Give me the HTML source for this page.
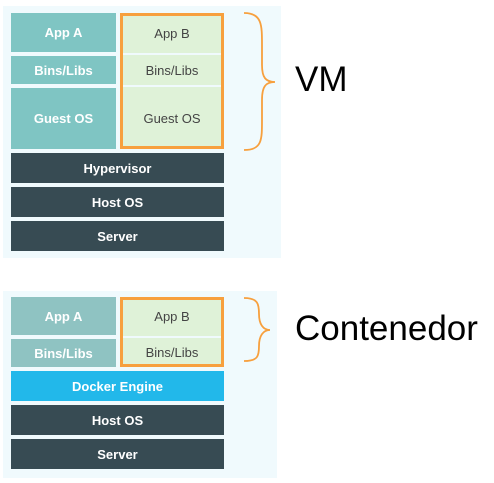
<!DOCTYPE html>
<html><head><style>
body{margin:0;width:494px;height:483px;background:#fff;position:relative;overflow:hidden;font-family:"Liberation Sans",sans-serif}
div{position:absolute;box-sizing:border-box}
.b{display:flex;align-items:center;justify-content:center;font-size:13px;color:#fff;font-weight:bold}
.t{background:#7fc5c3}
.t2{background:#8fc3c2}
.g{background:#dff2d8;color:#444;font-weight:normal}
.d{background:#374b53}
.o{border:3px solid #f7a03e}
.lbl{font-size:35px;color:#000;line-height:1}
</style></head><body>
<div style="left:3px;top:6px;width:278px;height:252px;background:#f0fafd"></div>
<div class="b t" style="left:11px;top:13px;width:105px;height:39px">App A</div>
<div class="b t" style="left:11px;top:56px;width:105px;height:28px">Bins/Libs</div>
<div class="b t" style="left:11px;top:88px;width:105px;height:61px">Guest OS</div>
<div class="b g" style="left:120px;top:13px;width:104px;height:40px">App B</div>
<div class="b g" style="left:120px;top:55px;width:104px;height:30px">Bins/Libs</div>
<div class="b g" style="left:120px;top:87px;width:104px;height:62px">Guest OS</div>
<div class="o" style="left:120px;top:13px;width:104px;height:136px"></div>
<div class="b d" style="left:11px;top:153px;width:213px;height:30px">Hypervisor</div>
<div class="b d" style="left:11px;top:187px;width:213px;height:30px">Host OS</div>
<div class="b d" style="left:11px;top:221px;width:213px;height:30px">Server</div>

<div style="left:3px;top:291px;width:274px;height:187px;background:#f0fafd"></div>
<div class="b t2" style="left:11px;top:297px;width:105px;height:38px">App A</div>
<div class="b t2" style="left:11px;top:339px;width:105px;height:28px">Bins/Libs</div>
<div class="b g" style="left:120px;top:297px;width:104px;height:39px">App B</div>
<div class="b g" style="left:120px;top:338px;width:104px;height:29px">Bins/Libs</div>
<div class="o" style="left:120px;top:297px;width:104px;height:70px"></div>
<div class="b" style="left:11px;top:371px;width:213px;height:30px;background:#22b8ea">Docker Engine</div>
<div class="b d" style="left:11px;top:405px;width:213px;height:30px">Host OS</div>
<div class="b d" style="left:11px;top:439px;width:213px;height:30px">Server</div>

<svg style="position:absolute;left:0;top:0" width="494" height="483">
<path d="M244 13 C262 13,262 25,262 45 L262 65 C262 78,266 82,275 82 C266 82,262 86,262 100 L262 120 C262 140,262 150,244 150" fill="none" stroke="#f7a03e" stroke-width="1.8"/>
<path d="M244 298 C258 298,259 304,259 314 C259 324,263 330,270 330 C263 330,259 336,259 346 C259 356,258 361,244 361" fill="none" stroke="#f7a03e" stroke-width="1.8"/>
</svg>
<div class="lbl" style="left:295px;top:62px">VM</div>
<div class="lbl" style="left:295px;top:311px">Contenedor</div>
</body></html>
